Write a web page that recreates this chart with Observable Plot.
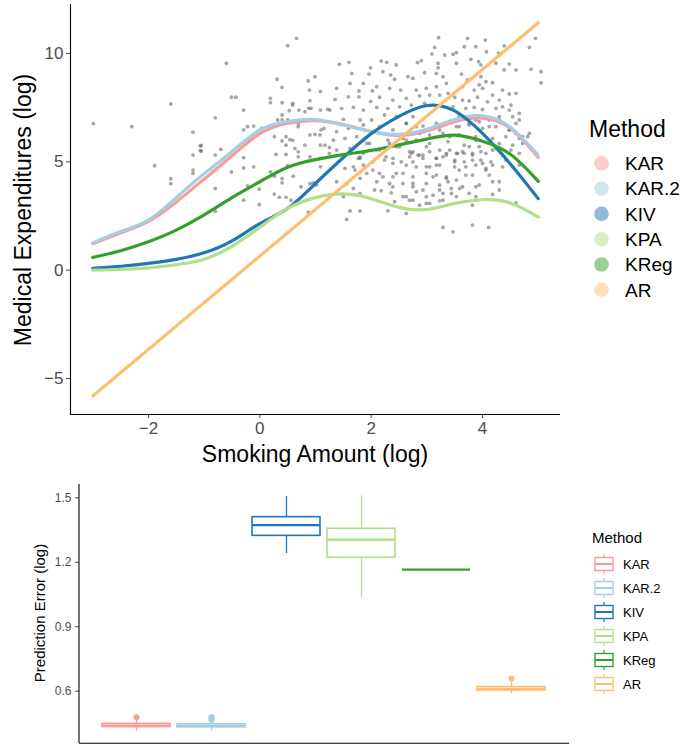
<!DOCTYPE html>
<html><head><meta charset="utf-8">
<script src="https://cdn.jsdelivr.net/npm/d3@7"></script>
<script src="https://cdn.jsdelivr.net/npm/@observablehq/plot@0.6"></script>
<style>
body{margin:0;background:#fff;font-family:"Liberation Sans",Arial,sans-serif;}
#wrap{position:relative;width:683px;height:744px;overflow:hidden;background:#fff;}
#topChart,#botChart,#ovl{position:absolute;left:0;}
#topChart{top:0}#botChart{top:470px}#ovl{top:0;pointer-events:none}
#topChart svg text,#botChart svg text{fill:#4d4d4d}
</style></head><body>
<div id="wrap"><div id="topChart"></div><div id="botChart"></div><svg id="ovl" width="683" height="744"></svg></div>
<script>
// ---------- data ----------
const methods = ["KAR","KAR.2","KIV","KPA","KReg","AR"];
const colors  = ["#fb9a99","#a6cee3","#1f78b4","#b2df8a","#33a02c","#fdbf6f"];

const curveX = [-3,-2.5,-2,-1.5,-1,-0.5,0,0.5,1,1.5,2,2.5,3,3.5,4,4.5,5];
const karY   = [1.22,1.72,2.25,3.15,4.20,5.28,6.30,6.78,6.90,6.72,6.40,6.22,6.42,6.85,7.02,6.55,5.20];
const kar2Y  = [1.26,1.78,2.31,3.35,4.45,5.48,6.47,6.86,6.95,6.70,6.40,6.27,6.50,6.95,7.12,6.60,5.30];
const kivY   = [0.08,0.18,0.31,0.50,0.80,1.35,2.15,2.85,4.00,5.20,6.30,7.10,7.60,7.35,6.31,4.90,3.30];
const kpaY   = [0.00,0.03,0.11,0.25,0.50,1.10,1.98,2.85,3.35,3.52,3.30,2.90,2.80,3.08,3.25,3.10,2.45];
const kregY  = [0.59,0.90,1.31,1.85,2.55,3.35,4.08,4.75,5.10,5.33,5.53,5.78,6.05,6.23,5.95,5.35,4.10];
const arX    = [-3,5];
const arY    = [-5.81,11.42];

const scatterX = [-2.99,-2.30,-1.60,-1.20,-1.07,-1.07,-1.20,-1.89,-1.20,-1.20,-1.60,-1.60,
0.66,0.50,-0.60,0.31,0.87,0.99,0.40,0.89,-0.51,-0.43,0.19,0.19,0.40,1.09,0.90,0.59,0.59,-0.29,0.53,0.70,0.81,0.88,0.92,1.09,1.22,-0.80,0.40,0.40,0.32,0.50,0.69,0.69,-0.22,-0.11,-0.29,0.03,0.17,0.90,0.99,1.08,1.10,1.15,0.26,0.47,0.40,0.54,0.47,0.59,0.81,1.09,1.17,-1.05,-1.05,-0.80,-0.70,-0.29,0.29,0.47,0.63,0.69,0.69,0.90,1.09,1.09,-0.29,-0.11,0.50,-0.51,0.19,0.40,0.40,0.26,0.90,0.96,0.60,-0.80,-0.22,-0.01,0.74,1.02,0.26,0.47,0.35,0.56,-0.29,-0.01,-0.80,0.87,1.25,1.25,
3.21,3.14,3.09,3.32,1.43,1.60,2.18,2.28,2.45,2.83,2.90,1.99,3.20,3.20,1.96,2.21,2.35,2.42,2.75,2.96,3.17,3.29,3.35,1.86,1.62,1.38,1.78,2.02,2.33,2.53,2.81,2.99,3.17,1.35,1.59,1.78,1.99,2.15,2.39,2.63,2.87,3.05,3.23,3.38,1.47,1.68,1.86,2.10,2.30,2.51,2.72,2.96,1.26,1.50,1.80,2.01,2.24,2.45,2.75,1.38,1.59,1.86,2.15,2.63,2.93,3.17,1.32,1.53,1.74,1.92,2.30,2.57,2.81,3.05,3.29,1.38,1.62,1.86,2.15,2.45,2.75,2.99,3.23,1.50,1.80,2.69,2.93,3.17,3.35,3.38,2.66,2.10,1.65,
3.73,4.05,3.53,3.47,3.67,3.88,4.07,4.39,4.29,4.84,4.95,3.79,3.53,3.93,3.97,4.24,4.48,4.39,4.60,4.87,5.05,5.05,3.62,3.73,3.97,4.06,4.18,3.94,3.64,3.85,4.00,4.18,4.36,4.48,4.30,4.60,3.50,3.64,3.76,3.91,4.09,4.51,4.48,3.47,3.70,3.85,4.00,4.24,4.36,4.66,4.54,3.58,3.88,4.12,4.30,4.66,3.53,3.76,4.00,4.24,4.48,4.60,4.84,3.58,3.88,4.18,4.42,4.66,4.81,3.67,3.94,4.24,4.54,4.72,3.55,3.82,4.06,4.36,4.51,
2.72,2.87,3.05,3.17,3.35,2.39,2.54,2.24,2.63,2.81,3.05,3.23,1.77,1.86,2.03,1.53,1.71,1.92,2.15,2.39,2.57,2.75,2.99,3.17,3.35,1.38,1.56,1.80,2.10,2.33,2.57,2.75,2.99,3.23,3.38,1.68,1.80,2.06,2.18,2.36,2.63,2.81,2.99,3.11,3.29,1.50,1.62,1.80,2.30,2.42,2.69,3.05,3.23,1.56,2.63,3.29,2.87,
3.53,3.64,3.82,3.97,3.50,3.67,3.82,4.00,4.15,3.50,3.70,3.88,4.06,4.18,4.36,3.70,3.94,4.12,4.30,3.44,3.59,3.76,4.18,3.44,3.82,4.60,3.82,4.11,3.47,4.66,
2.69,2.84,2.93,2.75,2.99,3.17,3.29,3.41,3.50,3.58,3.67,3.76,3.88,3.97,4.06,4.18,4.30,4.42,4.54,4.66,3.11,3.35,3.53,3.82,2.75,2.93,3.23,3.64,3.88,4.18,2.39,2.45,2.27,2.51,2.63,2.87,3.05,3.23,3.41,3.58,3.76,3.94,4.12,4.30,4.48,4.60,4.72,2.81,2.63,2.39,2.15,2.33,2.09,1.97,1.86,1.80,1.68,2.03,2.21,2.39,2.57,2.75,2.99,3.29,3.53,3.88,4.30];
const scatterY = [6.76,6.62,7.67,6.37,5.73,5.51,5.31,4.82,4.62,4.47,4.22,3.99,
10.70,10.36,9.55,8.81,8.73,8.93,8.44,8.31,7.98,7.98,7.93,7.73,7.73,8.24,7.82,7.70,7.62,7.39,7.36,7.39,7.31,7.47,7.47,7.39,7.42,7.03,7.16,6.93,6.93,6.93,6.77,6.62,6.62,6.65,6.47,6.54,6.54,6.24,6.27,6.24,6.47,6.54,6.16,6.16,5.96,6.02,5.77,5.99,5.77,5.77,5.77,5.76,5.50,5.31,5.57,5.19,5.34,5.34,5.62,5.46,5.23,5.23,5.16,4.77,4.72,4.77,4.82,4.53,4.54,4.23,4.03,4.34,3.99,4.03,4.34,3.77,3.89,3.74,3.85,3.93,3.51,3.36,3.36,3.23,3.23,3.03,2.72,2.68,5.66,5.39,
10.73,10.28,9.98,9.93,9.50,9.59,9.65,9.59,9.47,9.58,9.67,9.34,9.55,9.34,9.05,9.16,9.01,8.81,8.85,9.11,9.08,8.93,8.62,8.62,8.62,8.39,8.27,8.27,8.39,8.31,8.31,8.39,8.47,7.88,8.00,8.00,7.79,7.98,7.85,7.93,8.04,8.08,8.08,8.16,7.47,7.51,7.39,7.51,7.47,7.54,7.62,7.70,7.39,6.96,6.93,6.93,7.16,7.08,7.08,6.39,6.54,6.70,6.62,6.77,6.65,6.77,6.00,6.08,6.16,5.85,6.00,6.08,6.00,6.24,6.31,5.54,5.62,5.39,5.54,5.70,5.46,5.70,5.54,5.23,5.16,5.23,5.31,5.16,5.39,5.93,8.93,8.47,9.08,
10.70,10.62,10.04,9.96,10.31,10.31,10.08,10.35,10.01,10.28,10.70,9.73,9.55,9.62,9.47,9.55,9.51,9.24,9.24,9.27,9.16,8.65,9.05,8.78,8.93,8.70,8.65,8.55,8.47,8.31,8.39,8.08,8.31,8.13,7.85,8.16,7.98,7.85,7.81,7.98,7.77,7.62,7.39,7.54,7.47,7.51,7.42,7.47,7.54,7.24,7.08,7.08,6.93,6.93,7.08,6.93,6.62,6.70,6.54,6.62,6.47,6.31,6.31,6.24,6.16,6.08,6.16,6.08,6.16,5.77,5.70,5.62,5.77,5.85,5.39,5.31,5.39,5.31,5.54,
5.39,5.31,5.47,5.16,5.31,5.16,5.00,5.08,4.85,4.77,4.77,4.85,5.16,4.85,5.00,4.70,4.62,4.47,4.47,4.31,4.47,4.31,4.47,4.39,4.31,4.08,4.00,4.24,4.08,4.00,4.00,3.85,4.00,3.93,4.08,3.77,3.54,3.70,3.67,3.57,3.39,3.62,3.39,3.46,3.54,3.39,2.73,2.73,2.74,3.16,3.23,3.08,3.20,2.34,2.62,1.97,3.00,
5.39,5.47,5.39,5.47,5.08,5.00,5.08,4.93,5.00,4.77,4.77,4.85,4.62,4.85,4.77,4.39,3.93,4.39,4.08,3.77,3.77,3.54,3.50,3.54,3.00,3.11,2.08,1.97,1.77,4.85,
5.47,5.31,5.16,5.00,4.77,4.85,5.23,5.54,5.00,4.62,5.39,5.70,6.00,5.08,4.70,5.54,5.85,5.08,4.77,5.39,4.31,4.24,4.16,4.39,4.00,3.70,3.70,3.85,3.85,4.08,4.93,4.47,5.23,5.70,6.00,6.31,5.85,6.47,6.16,6.62,6.77,6.85,6.62,6.93,6.47,6.77,6.16,6.62,6.77,6.47,6.31,5.85,5.54,5.85,6.00,5.23,4.77,4.62,4.31,3.85,3.39,3.23,3.08,3.23,3.39,3.39,3.70];

// boxplot summaries (Prediction Error, log)
const boxQ1  = [0.433,0.432,1.323,1.221,1.166,0.603];
const boxMed = [0.440,0.438,1.373,1.305,1.166,0.611];
const boxQ3  = [0.448,0.446,1.410,1.356,1.166,0.619];
const boxLo  = [0.414,0.414,1.241,1.037,1.166,0.588];
const boxHi  = [0.467,0.462,1.506,1.509,1.166,0.647];
const outMethod = ["KAR","KAR.2","KAR.2","KAR.2","AR"];
const outValue  = [0.479,0.466,0.473,0.480,0.659];

const topXTicks = [-2,0,2,4];
const topYTicks = [-5,0,5,10];
const botYTicks = [0.6,0.9,1.2,1.5];

// ---------- tables ----------
const scatter = scatterX.map((x,i)=>({x, y: scatterY[i]}));
const seriesY = {"KAR":karY,"KAR.2":kar2Y,"KIV":kivY,"KPA":kpaY,"KReg":kregY};
const lines = [];
methods.forEach(m=>{
  if (m === "AR") arX.forEach((x,i)=>lines.push({method:m, x, y: arY[i]}));
  else curveX.forEach((x,i)=>lines.push({method:m, x, y: seriesY[m][i]}));
});
const boxes = methods.map((m,i)=>({method:m, q1:boxQ1[i], med:boxMed[i], q3:boxQ3[i], lo:boxLo[i], hi:boxHi[i]}));
const outs = outMethod.map((m,i)=>({method:m, v: outValue[i]}));

const FONT = '"Liberation Sans", Arial, sans-serif';
const xDom = [-3.4, 5.4], yDom = [-6.66, 12.26];

const topPlot = Plot.plot({
  width: 565, height: 465,
  marginLeft: 70, marginRight: 5, marginTop: 4, marginBottom: 51,
  style: {fontFamily: FONT, color: "#4d4d4d", background: "transparent", overflow: "visible"},
  x: {domain: xDom}, y: {domain: yDom},
  color: {domain: methods, range: colors},
  marks: [
    Plot.dot(scatter, {x: "x", y: "y", r: 1.9, fill: "#6a6a6a", fillOpacity: 0.6, stroke: null}),
    Plot.line(lines, {x: "x", y: "y", z: "method", stroke: "method", strokeWidth: 3.2, curve: "natural"}),
    Plot.axisX({ticks: topXTicks, tickSize: 4, tickPadding: 3, fontSize: 17, label: null}),
    Plot.axisY({ticks: topYTicks, tickSize: 4, tickPadding: 3, fontSize: 17, label: null}),
    Plot.ruleX([xDom[0]], {stroke: "black", strokeWidth: 1.1}),
    Plot.ruleY([yDom[0]], {stroke: "black", strokeWidth: 1.1})
  ]
});
document.getElementById("topChart").appendChild(topPlot);

const bDom = [0.358, 1.562];
const botPlot = Plot.plot({
  width: 575, height: 274,
  marginLeft: 79, marginRight: 6, marginTop: 14, marginBottom: 1.3,
  style: {fontFamily: FONT, color: "#4d4d4d", background: "transparent", overflow: "visible"},
  x: {type: "band", domain: methods, paddingInner: 0.09, paddingOuter: 0.274, axis: null},
  y: {domain: bDom},
  color: {domain: methods, range: colors},
  marks: [
    Plot.ruleX(boxes, {x: "method", y1: "lo", y2: "q1", stroke: "method", strokeWidth: 1.3}),
    Plot.ruleX(boxes, {x: "method", y1: "q3", y2: "hi", stroke: "method", strokeWidth: 1.3}),
    Plot.barY(boxes, {x: "method", y1: "q1", y2: "q3", fill: "white", stroke: "method", strokeWidth: 1.6, inset: 0}),
    Plot.tickY(boxes, {x: "method", y: "med", stroke: "method", strokeWidth: 2.4}),
    Plot.dot(outs, {x: "method", y: "v", r: 3, fill: "method", stroke: null}),
    Plot.axisY({ticks: botYTicks, tickFormat: d3.format(".1f"), tickSize: 4, tickPadding: 4, fontSize: 12, label: null}),
    Plot.ruleY([bDom[0]], {stroke: "black", strokeWidth: 1.1})
  ]
});
document.getElementById("botChart").appendChild(botPlot);

// ---------- overlay: titles & legends ----------
const ovl = d3.select("#ovl").style("font-family", FONT);
// left axis line of bottom panel
ovl.append("line").attr("x1",79).attr("x2",79).attr("y1",484).attr("y2",743).attr("stroke","black").attr("stroke-width",1.1);

ovl.append("text").attr("x",315).attr("y",461.5).attr("text-anchor","middle")
  .attr("font-size",23).attr("fill","black").text("Smoking Amount (log)");
ovl.append("text").attr("transform","translate(31,210) rotate(-90)").attr("text-anchor","middle")
  .attr("font-size",23).attr("fill","black").text("Medical Expenditures (log)");
ovl.append("text").attr("transform","translate(45,613) rotate(-90)").attr("text-anchor","middle")
  .attr("font-size",15).attr("fill","black").text("Prediction Error (log)");

// top legend
ovl.append("text").attr("x",589).attr("y",136.5).attr("font-size",23).attr("fill","black").text("Method");
methods.forEach((m,i)=>{
  const cy = 163.3 + 25.3*i;
  ovl.append("circle").attr("cx",601.5).attr("cy",cy).attr("r",7.3).attr("fill",colors[i]).attr("fill-opacity",0.5);
  ovl.append("text").attr("x",625).attr("y",cy+6.8).attr("font-size",19).attr("fill","black").text(m);
});

// bottom legend
ovl.append("text").attr("x",592).attr("y",543.4).attr("font-size",15).attr("fill","black").text("Method");
methods.forEach((m,i)=>{
  const cy = 564 + 24*i, c = colors[i];
  const g = ovl.append("g");
  g.append("line").attr("x1",604).attr("x2",604).attr("y1",cy-10).attr("y2",cy+10).attr("stroke",c).attr("stroke-width",1.2);
  g.append("rect").attr("x",595).attr("y",cy-6.5).attr("width",18).attr("height",13).attr("fill","white").attr("stroke",c).attr("stroke-width",1.4);
  g.append("line").attr("x1",595).attr("x2",613).attr("y1",cy).attr("y2",cy).attr("stroke",c).attr("stroke-width",2);
  ovl.append("text").attr("x",623).attr("y",cy+4.7).attr("font-size",13).attr("fill","black").text(m);
});
</script>
</body></html>
